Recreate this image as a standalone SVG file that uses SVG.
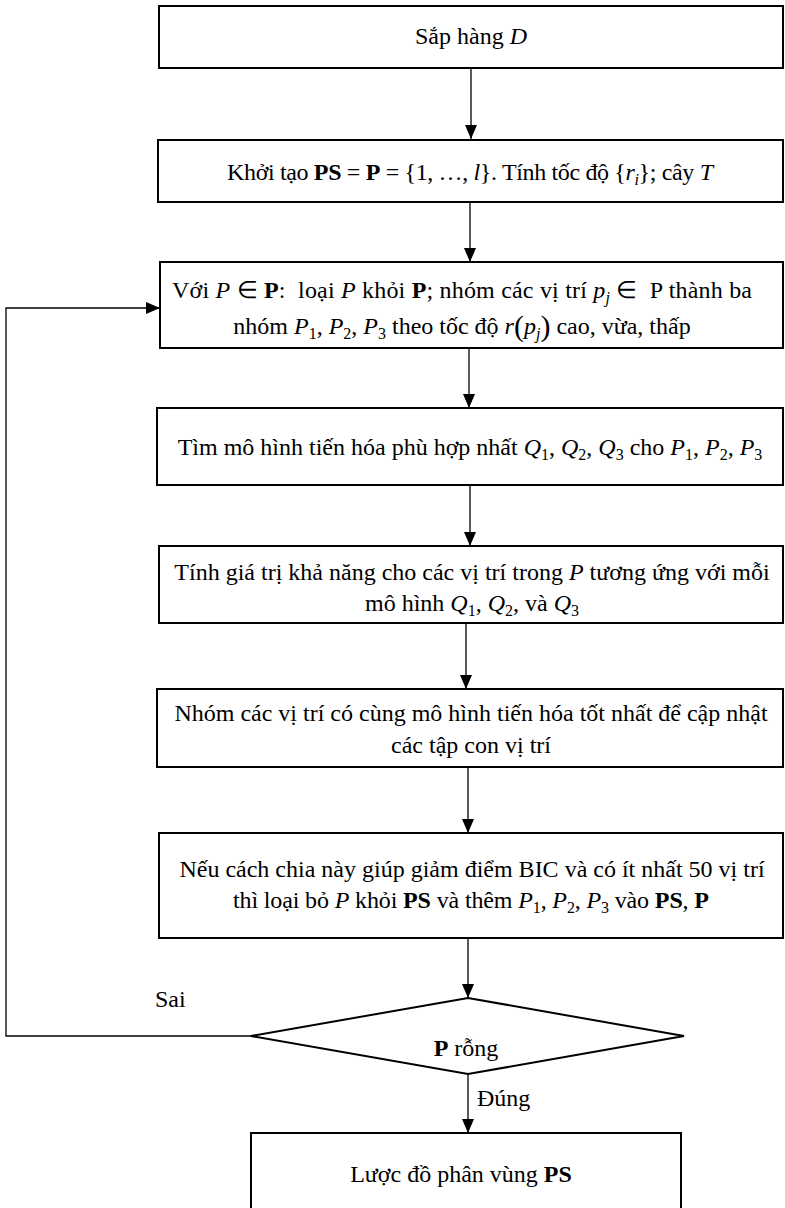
<svg xmlns="http://www.w3.org/2000/svg" width="785" height="1208" viewBox="0 0 785 1208">
<style>
.box{fill:#fff;stroke:#000;stroke-width:2}
.ln{fill:none;stroke:#000;stroke-width:1.3}
text{font-family:"Liberation Serif","Times New Roman",serif;font-size:24px;fill:#000}
.c{text-anchor:middle}
.i{font-style:italic}
.b{font-weight:bold}
.s{font-size:16px}
.big{font-size:30px}
</style>
<defs>
<marker id="ah" viewBox="0 0 14 12" refX="14" refY="6" markerWidth="14" markerHeight="12" markerUnits="userSpaceOnUse" orient="auto">
<path d="M0,0 L14,6 L0,12 z" fill="#000"/>
</marker>
</defs>
<rect width="785" height="1208" fill="#fff"/>
<g id="connectors">
<line class="ln" x1="471" y1="68" x2="471" y2="139" marker-end="url(#ah)"/>
<line class="ln" x1="470" y1="202" x2="470" y2="262" marker-end="url(#ah)"/>
<line class="ln" x1="469" y1="348" x2="469" y2="408" marker-end="url(#ah)"/>
<line class="ln" x1="470" y1="485" x2="470" y2="546" marker-end="url(#ah)"/>
<line class="ln" x1="466" y1="623" x2="466" y2="689" marker-end="url(#ah)"/>
<line class="ln" x1="468" y1="767" x2="468" y2="833" marker-end="url(#ah)"/>
<line class="ln" x1="468" y1="938" x2="468" y2="998" marker-end="url(#ah)"/>
<line class="ln" x1="468" y1="1074" x2="468" y2="1133" marker-end="url(#ah)"/>
<polyline class="ln" points="251,1036 6,1036 6,308 160,308" marker-end="url(#ah)"/>
<text x="155" y="1007">Sai</text>
<text x="477" y="1106">Đúng</text>
</g>
<g id="n1">
<rect class="box" x="159" y="6" width="624" height="62"/>
<text class="c" x="471" y="44">Sắp hàng <tspan class="i">D</tspan></text>
</g>
<g id="n2">
<rect class="box" x="158" y="140" width="625" height="62"/>
<text class="c" x="470" y="180" textLength="486" lengthAdjust="spacing">Khởi tạo <tspan class="b">PS</tspan> = <tspan class="b">P</tspan> = {1, …, <tspan class="i">l</tspan>}. Tính tốc độ {<tspan class="i">r</tspan><tspan class="s i" dy="5">i</tspan><tspan dy="-5">}; cây </tspan><tspan class="i">T</tspan></text>
</g>
<g id="n3">
<rect class="box" x="160" y="262" width="623" height="86"/>
<text class="c" x="462" y="298" textLength="580" lengthAdjust="spacing">Với <tspan class="i">P</tspan> ∈ <tspan class="b">P</tspan>:&#160; loại <tspan class="i">P</tspan> khỏi <tspan class="b">P</tspan>; nhóm các vị trí <tspan class="i">p</tspan><tspan class="s i" dy="5">j</tspan><tspan dy="-5"> ∈&#160; P thành ba</tspan></text>
<text class="c" x="462" y="334">nhóm <tspan class="i">P</tspan><tspan class="s" dy="5">1</tspan><tspan dy="-5">, </tspan><tspan class="i">P</tspan><tspan class="s" dy="5">2</tspan><tspan dy="-5">, </tspan><tspan class="i">P</tspan><tspan class="s" dy="5">3</tspan><tspan dy="-5"> theo tốc độ </tspan><tspan class="i">r</tspan><tspan class="big" dy="2">(</tspan><tspan class="i" dy="-2">p</tspan><tspan class="s i" dy="5">j</tspan><tspan class="big" dy="-3">)</tspan><tspan dy="-2"> cao, vừa, thấp</tspan></text>
</g>
<g id="n4">
<rect class="box" x="157" y="408" width="626" height="77"/>
<text class="c" x="470" y="455">Tìm mô hình tiến hóa phù hợp nhất <tspan class="i">Q</tspan><tspan class="s" dy="5">1</tspan><tspan dy="-5">, </tspan><tspan class="i">Q</tspan><tspan class="s" dy="5">2</tspan><tspan dy="-5">, </tspan><tspan class="i">Q</tspan><tspan class="s" dy="5">3</tspan><tspan dy="-5"> cho </tspan><tspan class="i">P</tspan><tspan class="s" dy="5">1</tspan><tspan dy="-5">, </tspan><tspan class="i">P</tspan><tspan class="s" dy="5">2</tspan><tspan dy="-5">, </tspan><tspan class="i">P</tspan><tspan class="s" dy="5">3</tspan></text>
</g>
<g id="n5">
<rect class="box" x="159" y="546" width="624" height="77"/>
<text class="c" x="472" y="580">Tính giá trị khả năng cho các vị trí trong <tspan class="i">P</tspan> tương ứng với mỗi</text>
<text class="c" x="472" y="611">mô hình <tspan class="i">Q</tspan><tspan class="s" dy="5">1</tspan><tspan dy="-5">, </tspan><tspan class="i">Q</tspan><tspan class="s" dy="5">2</tspan><tspan dy="-5">, và </tspan><tspan class="i">Q</tspan><tspan class="s" dy="5">3</tspan></text>
</g>
<g id="n6">
<rect class="box" x="157" y="689" width="626" height="78"/>
<text class="c" x="471" y="721">Nhóm các vị trí có cùng mô hình tiến hóa tốt nhất để cập nhật</text>
<text class="c" x="471" y="753">các tập con vị trí</text>
</g>
<g id="n7">
<rect class="box" x="159" y="833" width="624" height="105"/>
<text class="c" x="472" y="877">Nếu cách chia này giúp giảm điểm BIC và có ít nhất 50 vị trí</text>
<text class="c" x="471" y="908" textLength="476" lengthAdjust="spacing">thì loại bỏ <tspan class="i">P</tspan> khỏi <tspan class="b">PS</tspan> và thêm <tspan class="i">P</tspan><tspan class="s" dy="5">1</tspan><tspan dy="-5">, </tspan><tspan class="i">P</tspan><tspan class="s" dy="5">2</tspan><tspan dy="-5">, </tspan><tspan class="i">P</tspan><tspan class="s" dy="5">3</tspan><tspan dy="-5"> vào </tspan><tspan class="b">PS</tspan>, <tspan class="b">P</tspan></text>
</g>
<g id="n8">
<polygon class="box" points="468,998 684,1036 468,1074 251,1036"/>
<text class="c" x="466" y="1056"><tspan class="b">P</tspan> rỗng</text>
</g>
<g id="n9">
<rect class="box" x="251" y="1133" width="430" height="90"/>
<text class="c" x="461" y="1182">Lược đồ phân vùng <tspan class="b">PS</tspan></text>
</g>
</svg>
